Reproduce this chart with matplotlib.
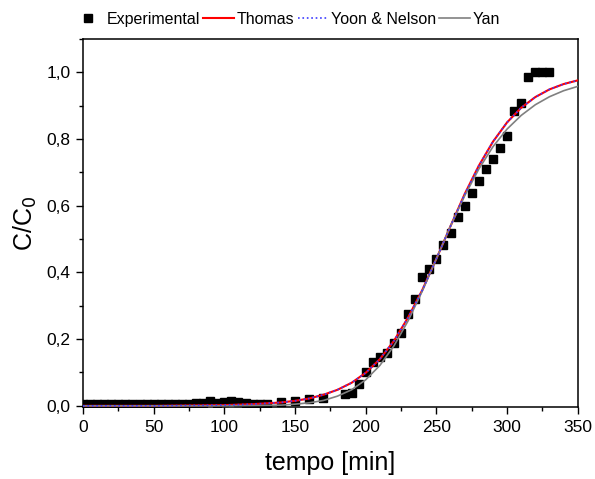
import matplotlib

matplotlib.use("Agg")
import matplotlib.pyplot as plt
from matplotlib.ticker import FuncFormatter, MultipleLocator

plt.rcParams["font.family"] = ["Liberation Sans", "DejaVu Sans"]

# experimental breakthrough points (min, C/C0)
exp_t = [0, 5, 10, 15, 20, 25, 30, 35, 40, 45, 50, 55, 60, 65, 70, 75, 80,
         85, 90, 95, 100, 105, 110, 115, 120, 125, 130, 140, 150, 160, 170,
         185, 190, 195, 200, 205, 210, 215, 220, 225, 230, 235, 240, 245,
         250, 255, 260, 265, 270, 275, 280, 285, 290, 295, 300, 305, 310,
         315, 320, 325, 330]
exp_c = [0.005, 0.005, 0.005, 0.005, 0.005, 0.005, 0.005, 0.005, 0.005,
         0.005, 0.005, 0.005, 0.005, 0.005, 0.006, 0.006, 0.007, 0.009,
         0.013, 0.009, 0.010, 0.013, 0.010, 0.007, 0.006, 0.006, 0.006,
         0.012, 0.015, 0.019, 0.023, 0.035, 0.038, 0.064, 0.102, 0.130,
         0.145, 0.158, 0.187, 0.218, 0.274, 0.320, 0.386, 0.409, 0.441,
         0.481, 0.517, 0.566, 0.599, 0.639, 0.673, 0.709, 0.741, 0.774,
         0.808, 0.885, 0.908, 0.985, 1.000, 1.000, 1.000]

# model curves
fit_t = [0, 50, 100, 120, 140, 150, 160, 170, 180, 190, 200, 210, 220, 230,
         240, 250, 260, 270, 280, 290, 300, 310, 320, 330, 340, 350]
thomas_c = [0.000, 0.000, 0.002, 0.005, 0.010, 0.015, 0.022, 0.033, 0.048,
            0.069, 0.099, 0.140, 0.195, 0.265, 0.347, 0.441, 0.539, 0.635,
            0.720, 0.792, 0.850, 0.894, 0.926, 0.949, 0.965, 0.976]
yoon_c = [0.000, 0.000, 0.002, 0.005, 0.010, 0.015, 0.022, 0.033, 0.048,
          0.069, 0.099, 0.140, 0.195, 0.265, 0.347, 0.441, 0.539, 0.635,
          0.720, 0.792, 0.850, 0.894, 0.926, 0.949, 0.965, 0.976]
yan_c = [0.000, 0.000, 0.000, 0.001, 0.002, 0.005, 0.009, 0.016, 0.029,
         0.048, 0.078, 0.121, 0.180, 0.255, 0.344, 0.441, 0.539, 0.630,
         0.710, 0.777, 0.830, 0.871, 0.903, 0.927, 0.945, 0.958]

fig = plt.figure(figsize=(5.95, 4.79), dpi=100)
ax = fig.add_axes([0.1395, 0.150, 0.8315, 0.7685])

ax.plot(exp_t, exp_c, "s", color="black", ms=6, label="Experimental", zorder=2)
ax.plot(fit_t, thomas_c, "-", color="red", lw=1.5, label="Thomas", zorder=3)
ax.plot(fit_t, yoon_c, ":", color="#3b3bff", lw=1.2, label="Yoon & Nelson", zorder=4)
ax.plot(fit_t, yan_c, "-", color="#808080", lw=1.2, label="Yan", zorder=3)

ax.set_xlim(0, 350)
ax.set_ylim(-0.004, 1.1)
ax.xaxis.set_major_locator(MultipleLocator(50))
ax.xaxis.set_minor_locator(MultipleLocator(25))
ax.yaxis.set_major_locator(MultipleLocator(0.2))
ax.yaxis.set_minor_locator(MultipleLocator(0.1))
ax.yaxis.set_major_formatter(FuncFormatter(lambda v, p: f"{v:.1f}".replace(".", ",")))
ax.tick_params(which="major", direction="out", length=5, width=1, labelsize=12.5, pad=4)
ax.tick_params(which="minor", direction="out", length=3, width=1)
for s in ax.spines.values():
    s.set_linewidth(1.1)

ax.set_xlabel("tempo [min]", fontsize=18, labelpad=12)
ax.set_ylabel("C/C$_0$", fontsize=18, labelpad=5)

fig.legend(loc="upper center", bbox_to_anchor=(0.482, 1.005), ncol=4,
           frameon=False, fontsize=11.5, handlelength=1.9, handletextpad=0.2,
           columnspacing=0.2, markerscale=0.9)

fig.savefig("out.png", dpi=100)
